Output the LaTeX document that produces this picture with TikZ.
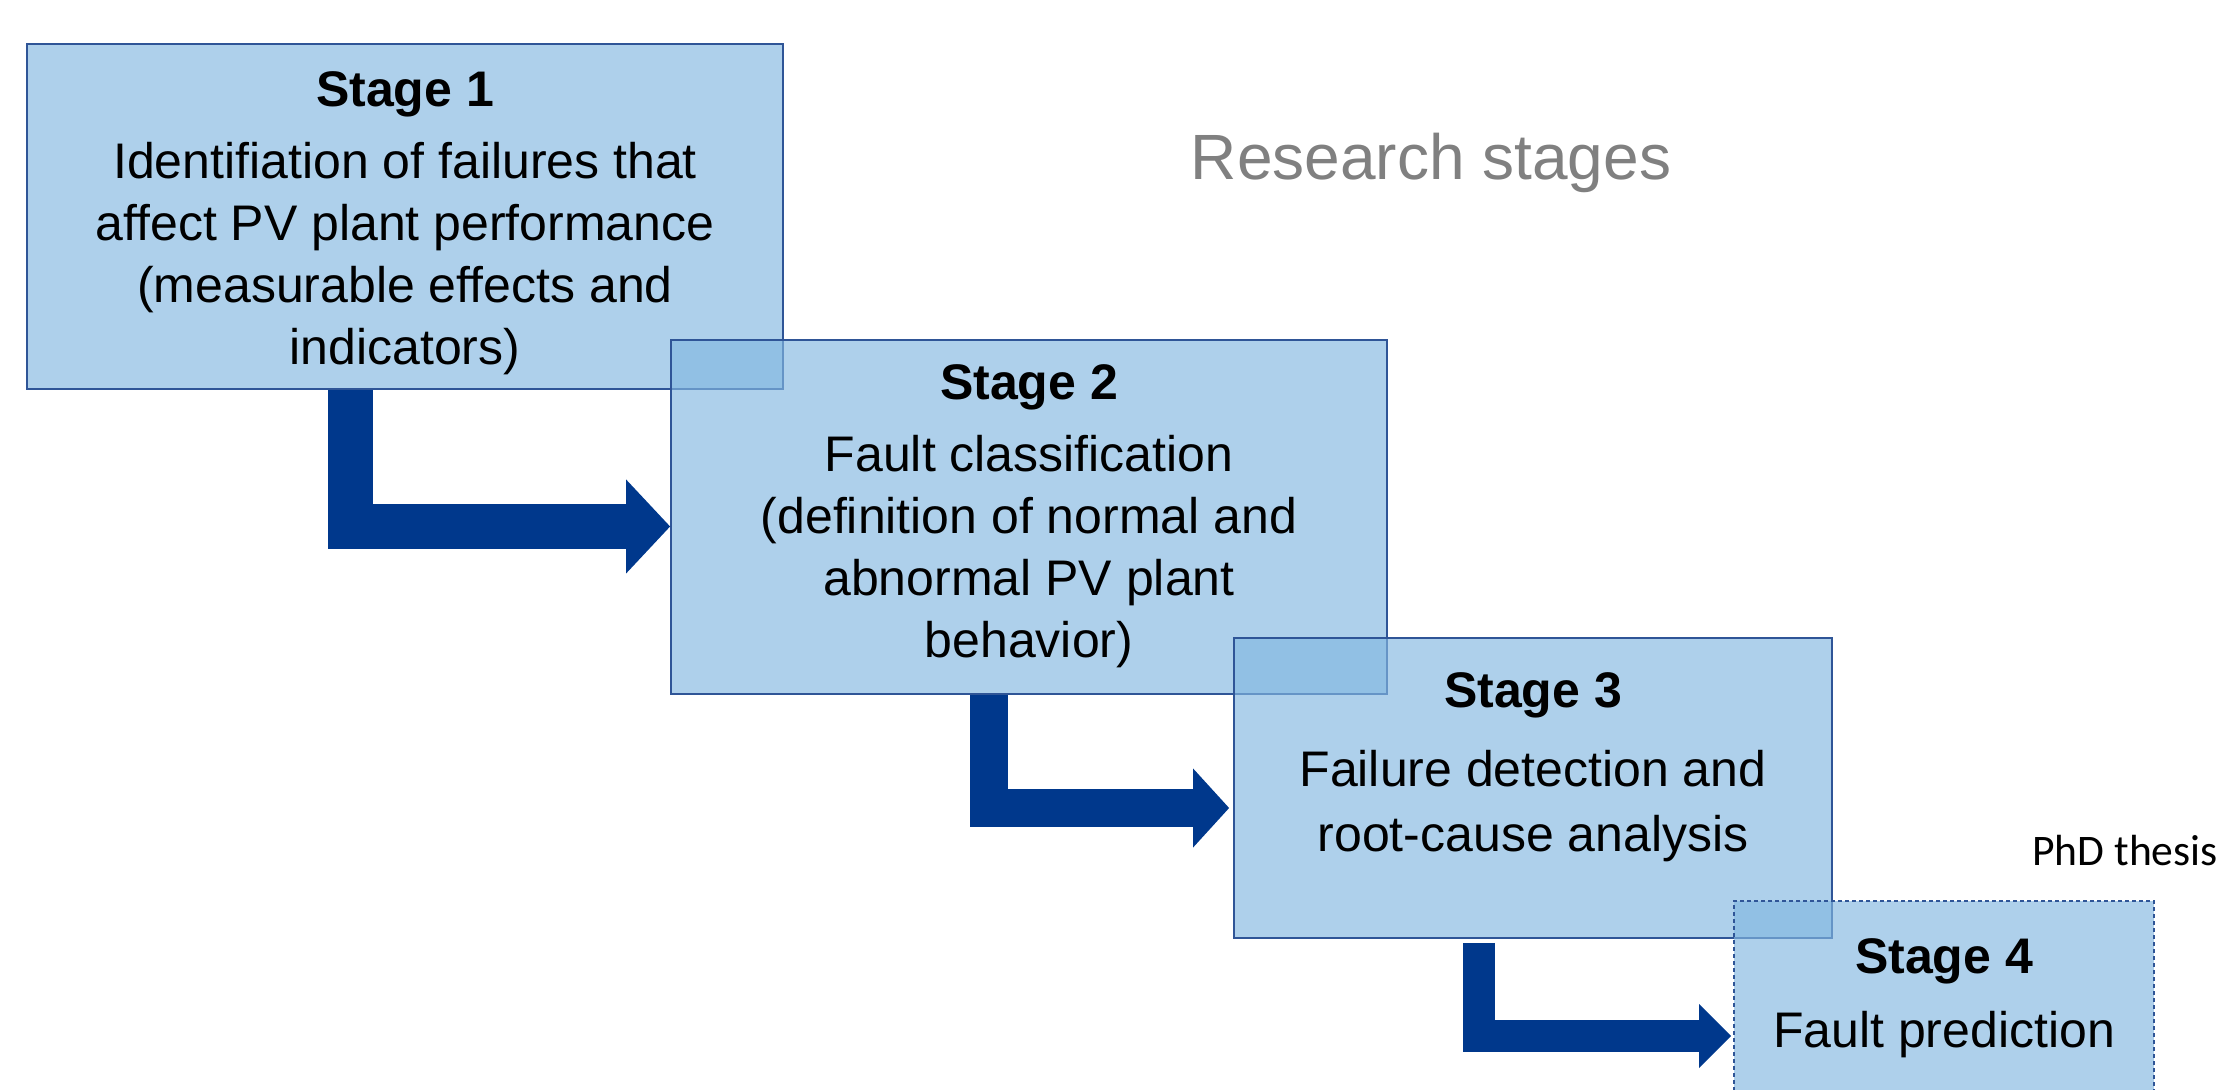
\documentclass[tikz,border=0pt]{standalone}
\usepackage{fontspec}
\setmainfont{Liberation Sans}
\newfontfamily\thesisfont{Carlito}
\usetikzlibrary{positioning, arrows.meta}
\definecolor{stagefill}{RGB}{130,183,224}
\definecolor{stageline}{RGB}{47,85,151}
\definecolor{flowblue}{RGB}{0,56,140}
\definecolor{headgray}{RGB}{128,128,128}

\begin{document}
\begin{tikzpicture}[
  x=0.5pt, y=0.5pt,
  stagebox/.style={draw=stageline, line width=0.9pt, fill=stagefill, fill opacity=0.65, inner sep=0pt},
  stagetext/.style={align=center, font=\fontsize{25}{31}\selectfont, inner sep=0pt},
  flow/.style={draw=flowblue, line join=miter}
]
\useasboundingbox (0,0) rectangle (2224,1089);
\clip (0,0) rectangle (2224,1089);

\node[headgray, font=\fontsize{32}{38}\selectfont] (title) at (1431,926) {Research stages};
\node[font=\thesisfont\fontsize{21.8}{26}\selectfont] (phd) at (2125,238) {PhD thesis};

% stages
\node[stagebox, minimum width=378pt, minimum height=172.5pt] (s1) at (405,872.5) {};
\node[stagetext] (t1) at (405,866) {\textbf{Stage 1}\\[5pt]
  Identifiation of failures that\\affect PV plant performance\\(measurable effects and\\indicators)};

\node[stagebox, minimum width=358pt, minimum height=177pt] (s2) at (1029,572) {};
\node[stagetext] (t2) at (1029,573) {\textbf{Stage 2}\\[5pt]
  Fault classification\\(definition of normal and\\abnormal PV plant\\behavior)};

\node[stagebox, minimum width=299pt, minimum height=150pt] (s3) at (1533,301) {};
\node[stagetext, font=\fontsize{25}{32.5}\selectfont] (t3) at (1533,322) {\textbf{Stage 3}\\[7pt]
  Failure detection and\\root-cause analysis};

\node[stagebox, dashed, dash pattern=on 2pt off 1.5pt, minimum width=210pt, minimum height=124pt] (s4) at (1944,64) {};
\node[stagetext] (t4) at (1944,91) {\textbf{Stage 4}\\[6pt]Fault prediction};

% arrows
\draw[flow, line width=22.5pt, -{Triangle[length=22pt, width=47pt, line width=0pt]}]
  ([xshift=162pt]s1.south west) |- ([yshift=-4.75pt]s2.west);
\draw[flow, line width=19pt, -{Triangle[length=18pt, width=39.5pt, line width=0pt]}]
  ([xshift=159.5pt]s2.south west) |- ([yshift=-10pt, xshift=-2pt]s3.west);
\draw[flow, line width=16pt, -{Triangle[length=16pt, width=32pt, line width=0pt]}]
  ([xshift=123pt, yshift=-2pt]s3.south west) |- ([yshift=-5.5pt, xshift=-1pt]s4.west);
\end{tikzpicture}
\end{document}
